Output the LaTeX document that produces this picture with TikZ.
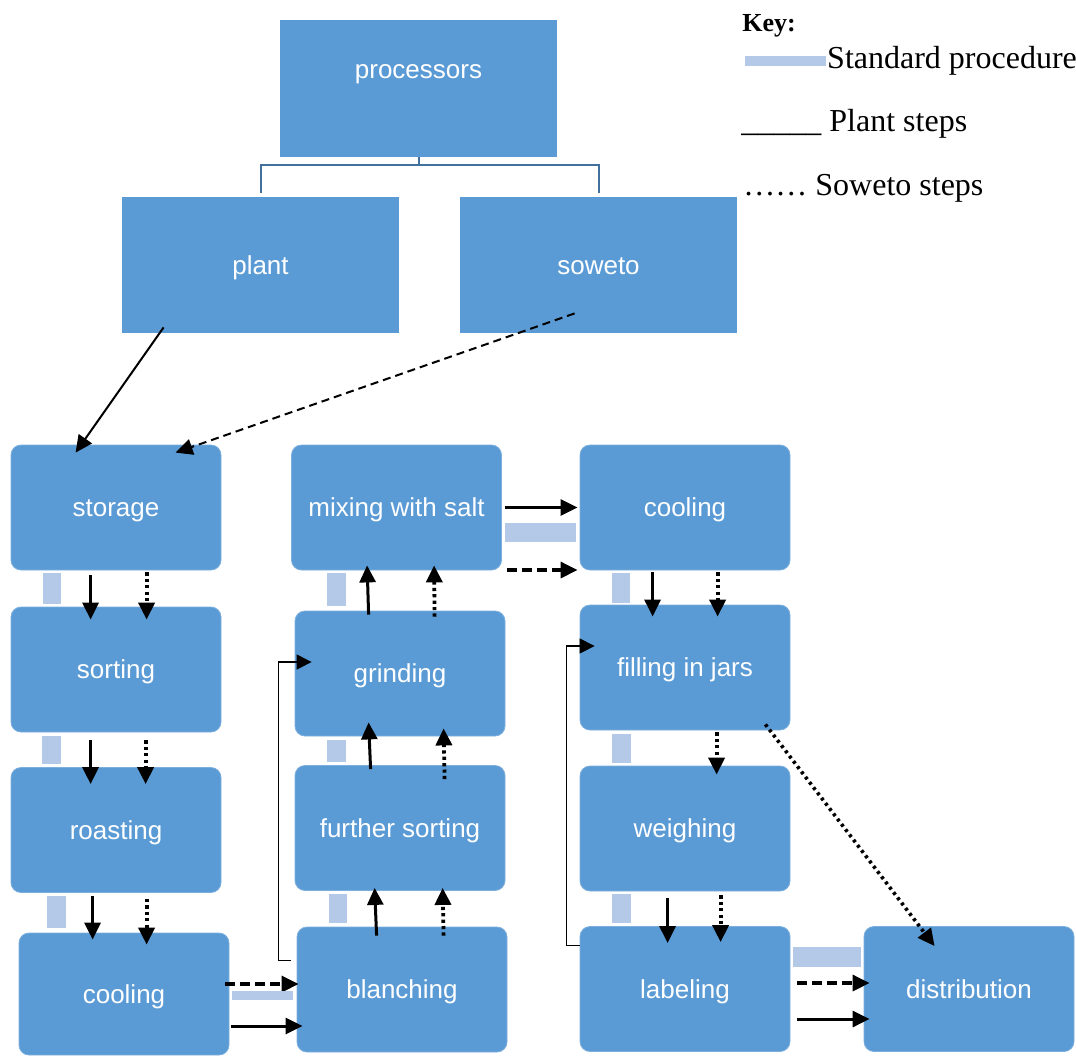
\documentclass[tikz,border=0pt]{standalone}
\usepackage{fontspec}
\setmainfont{Liberation Serif}
\setsansfont{Liberation Sans}
\usetikzlibrary{positioning,arrows.meta,shapes,calc}

\definecolor{boxblue}{RGB}{91,155,213}
\definecolor{barblue}{RGB}{180,201,232}
\definecolor{treeblue}{RGB}{65,113,156}

\tikzset{
  topbox/.style={rectangle, fill=boxblue, text=white, inner sep=0pt,
    font=\sffamily\fontsize{13}{15}\selectfont, text height=11pt, text depth=2pt,
    minimum width=138.5pt, minimum height=68pt},
  stepbox/.style={topbox, rounded corners=5pt, draw=boxblue!80!white, line width=0.4pt,
    minimum width=105pt, minimum height=62.5pt},
  stdbar/.style={fill=barblue},
  bigtip/.style={-{Triangle[length=8.5pt,width=8pt]}},
  plantarr/.style={bigtip, line width=1.5pt},
  sowetoarr/.style={bigtip, line width=1.9pt, dash pattern=on 1.6pt off 1.6pt},
  dasharr/.style={bigtip, line width=1.6pt, dash pattern=on 5pt off 2.5pt},
  loopline/.style={line width=0.6pt, -{Triangle[length=7.5pt,width=7.5pt]}},
  treeline/.style={draw=treeblue, line width=1pt},
  keytext/.style={font=\fontsize{16}{19}\selectfont, inner sep=0pt},
}

\begin{document}
\begin{tikzpicture}[x=0.5pt, y=-0.5pt]
    \useasboundingbox (0,0) rectangle (1076,1055);

    % Top of the tree
    \node[topbox, minimum height=68.5pt, text height=8pt, text depth=18.5pt] (processors) at (418.5,88.5) {processors};
    \node[topbox] (plant) at (260.5,265) {plant};
    \node[topbox] (soweto) at (598.5,265) {soweto};
    \draw[treeline] (processors.south) -- ++(0,8) -| ($(plant.north)+(0,-4)$);
    \draw[treeline] (processors.south) -- ++(0,8) -| ($(soweto.north)+(0,-4)$);

    % Key
    \node[font=\bfseries\fontsize{13}{15}\selectfont, inner sep=0pt, anchor=base west] (keytitle) at (742,31) {Key:};
    \node[fill=barblue, minimum width=40.5pt, minimum height=5pt, inner sep=0pt, anchor=west] (keybar) at (745,61) {};
    \node[keytext, right=0pt of keybar] (keystd) {Standard procedure};
    \node[keytext, anchor=base west] (keyplant) at (741,131) {\_\_\_\_\_ Plant steps};
    \node[keytext, anchor=base west] (keysoweto) at (743,195) {\ldots\ldots{} Soweto steps};

    % Process steps
    \node[stepbox] (storage) at (116,507.5) {storage};
    \node[stepbox] (sorting) at (116,669.5) {sorting};
    \node[stepbox] (roasting) at (116,830) {roasting};
    \node[stepbox, minimum height=61pt] (cooling1) at (124,994) {cooling};
    \node[stepbox] (mixing) at (396.5,507.5) {mixing with salt};
    \node[stepbox] (grinding) at (400,673.5) {grinding};
    \node[stepbox] (further) at (400,828) {further sorting};
    \node[stepbox] (blanching) at (402,989.5) {blanching};
    \node[stepbox] (cooling2) at (685,507.5) {cooling};
    \node[stepbox] (filling) at (685,667.5) {filling in jars};
    \node[stepbox] (weighing) at (685,828.5) {weighing};
    \node[stepbox] (labeling) at (685,989) {labeling};
    \node[stepbox] (distribution) at (969,989) {distribution};

    % From the processors to storage
    \draw[line width=1pt, bigtip] ($(plant.south west)+(42,-6)$) -- ($(storage.north west)+(65,8)$);
    \draw[line width=1pt, bigtip, dash pattern=on 4pt off 2.5pt] ($(soweto.south west)+(115,-20)$) -- ($(storage.north west)+(165,8)$);

    % storage -> sorting
    \fill[stdbar] ($(storage.south west)+(32,3)$) rectangle ($(sorting.north west)+(50,-3)$);
    \draw[plantarr] ($(storage.south west)+(80,5)$) -- ($(sorting.north west)+(80,13)$);
    \draw[sowetoarr] ($(storage.south west)+(136,2)$) -- ($(sorting.north west)+(136,13)$);

    % sorting -> roasting
    \fill[stdbar] ($(sorting.south west)+(31,4)$) rectangle ($(roasting.north west)+(50,-3)$);
    \draw[plantarr] ($(sorting.south west)+(80,8)$) -- ($(roasting.north west)+(80,17)$);
    \draw[sowetoarr] ($(sorting.south west)+(135,8)$) -- ($(roasting.north west)+(135,17)$);

    % roasting -> cooling
    \fill[stdbar] ($(roasting.south west)+(36,3)$) rectangle ($(cooling1.north west)+(47,-5)$);
    \draw[plantarr] ($(roasting.south west)+(82,3)$) -- ($(cooling1.north west)+(74,7)$);
    \draw[sowetoarr] ($(roasting.south west)+(136,6)$) -- ($(cooling1.north west)+(128,12)$);

    % cooling -> blanching
    \draw[dasharr] ($(cooling1.east)+(-4,-10)$) -- ($(blanching.west)+(2,-5.5)$);
    \fill[stdbar] ($(cooling1.east)+(3,-3)$) rectangle ($(blanching.west)+(-4,10.5)$);
    \draw[plantarr] ($(cooling1.east)+(2,32)$) -- ($(blanching.west)+(6,36.5)$);

    % blanching -> further sorting
    \fill[stdbar] ($(further.south west)+(34,3)$) rectangle ($(blanching.north west)+(50,-4)$);
    \draw[plantarr] ($(blanching.north west)+(80,9)$) -- ($(further.south west)+(80,-3)$);
    \draw[sowetoarr] ($(blanching.north west)+(147,9)$) -- ($(further.south west)+(148,-3)$);

    % further sorting -> grinding
    \fill[stdbar] ($(grinding.south west)+(32,4)$) rectangle ($(further.north west)+(51,-3)$);
    \draw[plantarr] ($(further.north west)+(76,4)$) -- ($(grinding.south west)+(74,-14)$);
    \draw[sowetoarr] ($(further.north west)+(150,14)$) -- ($(grinding.south west)+(149,-8)$);

    % grinding -> mixing with salt
    \fill[stdbar] ($(mixing.south west)+(36,3)$) rectangle ($(grinding.north west)+(51,-5)$);
    \draw[plantarr] ($(grinding.north west)+(74,4)$) -- ($(mixing.south west)+(76,-5)$);
    \draw[sowetoarr] ($(grinding.north west)+(140,6)$) -- ($(mixing.south west)+(143,-5)$);

    % blanching loops back to grinding
    \draw[loopline] ($(blanching.north west)+(-6,34)$) -- ++(-12,0) |- ($(grinding.west)+(17,-11.5)$);

    % mixing with salt -> cooling
    \draw[plantarr] ($(mixing.east)+(3,0)$) -- ($(cooling2.west)+(-2,0)$);
    \fill[stdbar] ($(mixing.east)+(3,15.5)$) rectangle ($(cooling2.west)+(-4,34.5)$);
    \draw[dasharr] ($(mixing.east)+(5,62.5)$) -- ($(cooling2.west)+(-2,62.5)$);

    % cooling -> filling in jars
    \fill[stdbar] ($(cooling2.south west)+(32,3)$) rectangle ($(filling.north west)+(50,-2)$);
    \draw[plantarr] ($(cooling2.south west)+(73,2)$) -- ($(filling.north west)+(73,12)$);
    \draw[sowetoarr] ($(cooling2.south west)+(138,2)$) -- ($(filling.north west)+(138,12)$);

    % filling in jars -> weighing
    \fill[stdbar] ($(filling.south west)+(32,4)$) rectangle ($(weighing.north west)+(51,-3)$);
    \draw[sowetoarr] ($(filling.south west)+(137,2)$) -- ($(weighing.north west)+(137,9)$);

    % weighing -> labeling
    \fill[stdbar] ($(weighing.south west)+(32,3)$) rectangle ($(labeling.north west)+(51,-3)$);
    \draw[plantarr] ($(weighing.south west)+(88,7)$) -- ($(labeling.north west)+(88,17)$);
    \draw[sowetoarr] ($(weighing.south west)+(141,4)$) -- ($(labeling.north west)+(141,16)$);

    % labeling loops back to filling in jars
    \draw[loopline] ($(labeling.north west)+(0,19)$) -- ++(-13,0) |- ($(filling.west)+(15,-21.5)$);

    % to distribution
    \draw[bigtip, line width=1.8pt, dash pattern=on 1.5pt off 1.8pt] ($(filling.south east)+(-25,-6)$) -- ($(distribution.north west)+(71,20)$);
    \fill[stdbar] ($(labeling.east)+(3,-42)$) rectangle ($(distribution.west)+(-3,-22)$);
    \draw[dasharr] ($(labeling.east)+(7,-6)$) -- ($(distribution.west)+(6,-6)$);
    \draw[plantarr] ($(labeling.east)+(7,30)$) -- ($(distribution.west)+(6,30)$);
\end{tikzpicture}
\end{document}
